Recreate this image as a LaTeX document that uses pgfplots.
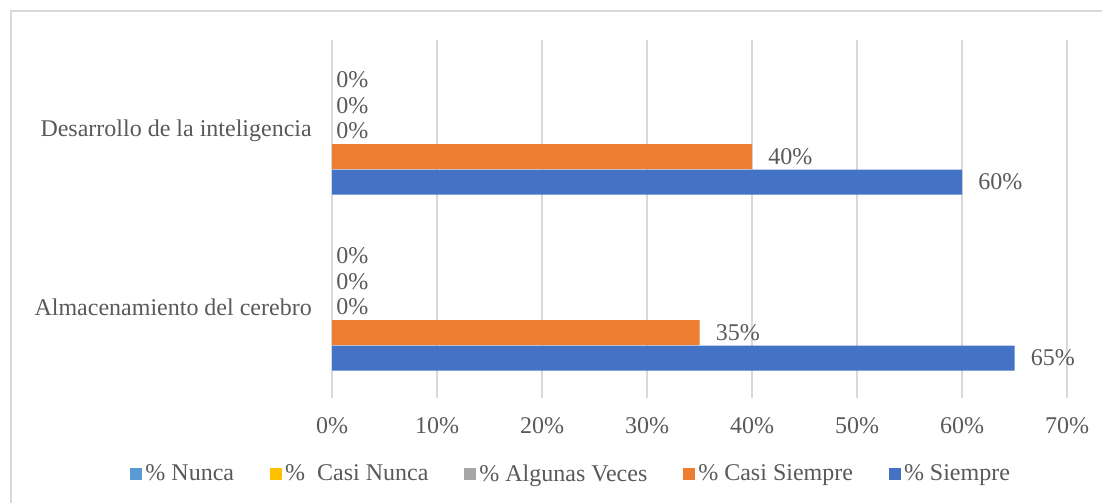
\documentclass[border=0pt]{standalone}
\usepackage{pgfplots}
\pgfplotsset{compat=1.18}
\usepackage{fontspec}
\setmainfont{Liberation Serif}
\definecolor{txt}{HTML}{595959}
\definecolor{gridc}{HTML}{D9D9D9}
\definecolor{cSiempre}{HTML}{4472C4}
\definecolor{cCasiSiempre}{HTML}{ED7D31}
\definecolor{cAlgunas}{HTML}{A5A5A5}
\definecolor{cCasiNunca}{HTML}{FFC000}
\definecolor{cNunca}{HTML}{5B9BD5}
\newcommand{\chartfont}{\fontsize{18}{21.6}\selectfont}
\pgfplotsset{
  sqlegend/.style={legend image code/.code={\fill[#1] (0pt,-4.5pt) rectangle (9pt,4.5pt); \path (10pt,0pt);}},
}
\begin{document}
\begin{tikzpicture}[x=0.75pt,y=0.75pt]
\useasboundingbox (0,0) rectangle (1102,503);
\draw[gridc, line width=1.1pt] (11,0) -- (11,492) -- (1102,492);
\begin{axis}[
  at={(249pt,78.75pt)}, anchor=south west,
  scale only axis, width=551.25pt, height=268.5pt,
  xbar, bar width=0.142,
  xmin=0, xmax=70, ymin=-0.517, ymax=1.517,
  xtick={0,10,20,30,40,50,60,70},
  ytick={0,1},
  yticklabels={Almacenamiento del cerebro, Desarrollo de la inteligencia},
  xticklabel={\pgfmathprintnumber{\tick}\%},
  /pgf/number format/assume math mode=true,
  xmajorgrids, grid style={gridc, line width=0.9pt},
  axis line style={draw=none},
  major tick length=0pt,
  tick label style={font=\chartfont, text=txt, inner sep=0pt},
  xticklabel style={anchor=north, yshift=-14.25pt},
  yticklabel style={anchor=east, xshift=-15pt},
  nodes near coords={\pgfmathprintnumber{\pgfplotspointmeta}\%},
  every node near coord/.append style={font=\chartfont, text=txt, anchor=west, inner sep=0pt},
  legend columns=5,
  legend style={draw=none, fill=none, inner sep=0pt, font=\chartfont, text=txt,
    at={(-0.275,-0.2123)}, anchor=west,
    nodes={inner sep=1.5pt},
    /tikz/every even column/.append style={column sep=25.25pt}},
]
\addplot[fill=none, draw=none, bar shift=0.29, sqlegend=cNunca,
  every node near coord/.append style={xshift=3pt}] coordinates {(0,0) (0,1)};
\addlegendentry{\% Nunca}
\addplot[fill=none, draw=none, bar shift=0.145, sqlegend=cCasiNunca,
  every node near coord/.append style={xshift=3pt}] coordinates {(0,0) (0,1)};
\addlegendentry{\%\ \ Casi Nunca}
\addplot[fill=none, draw=none, bar shift=0, sqlegend=cAlgunas,
  every node near coord/.append style={xshift=3pt}] coordinates {(0,0) (0,1)};
\addlegendentry{\% Algunas Veces}
\addplot[fill=cCasiSiempre, draw=none, bar shift=-0.145, sqlegend=cCasiSiempre,
  every node near coord/.append style={xshift=12pt}] coordinates {(35,0) (40,1)};
\addlegendentry{\% Casi Siempre}
\addplot[fill=cSiempre, draw=none, bar shift=-0.29, sqlegend=cSiempre,
  every node near coord/.append style={xshift=12pt}] coordinates {(65,0) (60,1)};
\addlegendentry{\% Siempre}
\end{axis}
\end{tikzpicture}
\end{document}
